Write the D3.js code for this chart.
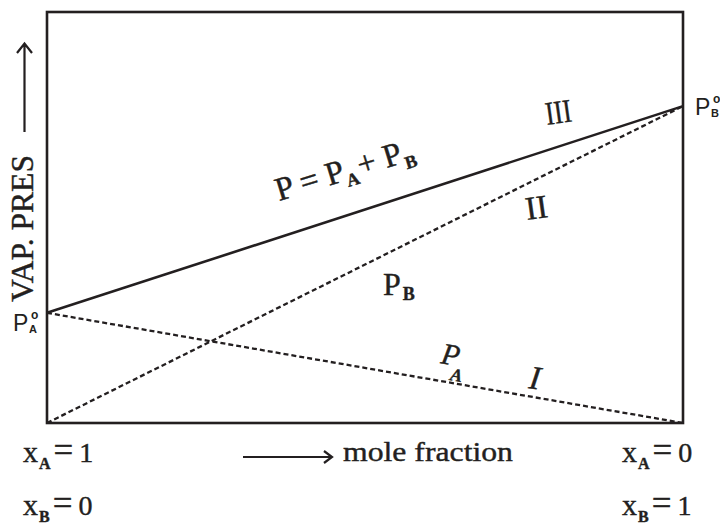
<!DOCTYPE html>
<html>
<head>
<meta charset="utf-8">
<script src="https://cdn.jsdelivr.net/npm/d3@7"></script>
<style>
  body { margin: 0; background: #fff; }
  svg { display: block; }
</style>
</head>
<body>
<script>
const width = 720;
const height = 523;

// mole fraction of B along the x axis (x_A = 1 - x_B)
const moleFractionB = [0, 1];
// partial pressures (arbitrary units, top of frame = 10)
const pressureA = [2.68, 0];
const pressureB = [0, 7.71];
const pressureTotal = [2.68, 7.71];
const yMax = 10;

const ink = "#231f20";
const serif = "'Liberation Serif', 'Times New Roman', serif";
const sans = "'Liberation Sans', Arial, sans-serif";

const svg = d3.select("body")
    .append("svg")
    .attr("width", width)
    .attr("height", height);

const x = d3.scaleLinear().domain([0, 1]).range([47, 683]);
const y = d3.scaleLinear().domain([0, yMax]).range([423, 12]);

const line = d3.line().x(d => x(d[0])).y(d => y(d[1]));
const points = vals => moleFractionB.map((m, i) => [m, vals[i]]);

// frame
svg.append("rect")
    .attr("x", x(0))
    .attr("y", y(yMax))
    .attr("width", x(1) - x(0))
    .attr("height", y(0) - y(yMax))
    .attr("fill", "none")
    .attr("stroke", ink)
    .attr("stroke-width", 2.6);

// I : P_A (dashed), II : P_B (dashed), III : total (solid)
[pressureA, pressureB].forEach(vals => {
    svg.append("path")
        .attr("d", line(points(vals)))
        .attr("fill", "none")
        .attr("stroke", ink)
        .attr("stroke-width", 2.3)
        .attr("stroke-dasharray", "5,3");
});
svg.append("path")
    .attr("d", line(points(pressureTotal)))
    .attr("fill", "none")
    .attr("stroke", ink)
    .attr("stroke-width", 2.6);

// text with sub/superscripts built from tspans
function label(parts, px, py, opts = {}) {
    const t = svg.append("text")
        .attr("x", px)
        .attr("y", py)
        .attr("fill", ink)
        .attr("stroke", ink)
        .attr("stroke-width", 0.4)
        .style("font-family", opts.family || serif)
        .style("font-size", (opts.size || 28) + "px");
    if (opts.rotate) t.attr("transform", `rotate(${opts.rotate},${px},${py})`);
    if (opts.anchor) t.attr("text-anchor", opts.anchor);
    let prev = 0;
    parts.forEach(p => {
        const off = p.off || 0;
        const s = t.append("tspan")
            .attr("dy", off - prev)
            .text(p.t);
        if (p.size) s.style("font-size", p.size + "px");
        if (p.bold) s.style("font-weight", "bold");
        if (p.italic) s.style("font-style", "italic");
        if (p.dx) s.attr("dx", p.dx);
        if (p.len) s.attr("textLength", p.len).attr("lengthAdjust", "spacingAndGlyphs");
        prev = off;
    });
    return t;
}

// P° labels at the ends of the total line
function degreeLabel(px, baseY, sub) {
    const g = svg.append("g").style("font-family", sans).attr("fill", ink);
    g.append("text").attr("x", px).attr("y", baseY).style("font-size", "23px").text("P");
    g.append("text").attr("x", px + 18).attr("y", baseY - 12).style("font-size", "12px")
        .style("font-weight", "bold").text("o");
    g.append("text").attr("x", px + 16).attr("y", baseY + 2).style("font-size", "11px")
        .style("font-weight", "bold").text(sub);
}
degreeLabel(13, y(pressureA[0]) + 18, "A");
degreeLabel(695, y(pressureB[1]) + 9, "B");

// curve labels
label([{ t: "P = P" }, { t: "A", size: 18, bold: true, off: 7 },
       { t: "+ P", dx: 2 }, { t: "B", size: 18, bold: true, off: 7, dx: 1 }],
      279, 201, { size: 33, rotate: -17 });
label([{ t: "III", len: 26 }], 547, 125, { size: 33, rotate: -8 });
label([{ t: "II" }], 527, 220, { size: 33, rotate: -8 });
label([{ t: "P" }, { t: "B", size: 18, bold: true, off: 5, dx: 2 }], 383, 295, { size: 32 });
label([{ t: "P", italic: true }, { t: "A", size: 18, bold: true, italic: true, off: 15, dx: -6 }],
      440, 363, { size: 30, rotate: 10 });
label([{ t: "I", italic: true }], 528, 388, { size: 33, rotate: 8 });

// y axis title with arrow
label([{ t: "VAP. PRES", len: 147 }], 33, 228.5, { size: 31, rotate: -90, anchor: "middle" });
svg.append("path")
    .attr("d", "M24.5,132V44M17,53L24.5,43.5L32,53")
    .attr("fill", "none")
    .attr("stroke", ink)
    .attr("stroke-width", 2.2);

// x axis title with arrow
svg.append("path")
    .attr("d", "M243,457H331M324,451L332,457L324,463")
    .attr("fill", "none")
    .attr("stroke", ink)
    .attr("stroke-width", 2.2);
label([{ t: "mole fraction", len: 170 }], 343, 461, { size: 27 });

// composition labels under the frame
const endLabels = [
    { letter: "A", value: "1", px: 23, py: 462 },
    { letter: "B", value: "0", px: 23, py: 515 },
    { letter: "A", value: "0", px: 622, py: 462 },
    { letter: "B", value: "1", px: 622, py: 515 }
];
endLabels.forEach(d => {
    label([{ t: "x", size: 30 }, { t: d.letter, size: 16, bold: true, off: 7, dx: 1 },
           { t: "=", size: 35, dx: 3, off: 0 }, { t: d.value, size: 28, dx: 6 }],
          d.px, d.py, { size: 28 });
});
</script>
</body>
</html>
